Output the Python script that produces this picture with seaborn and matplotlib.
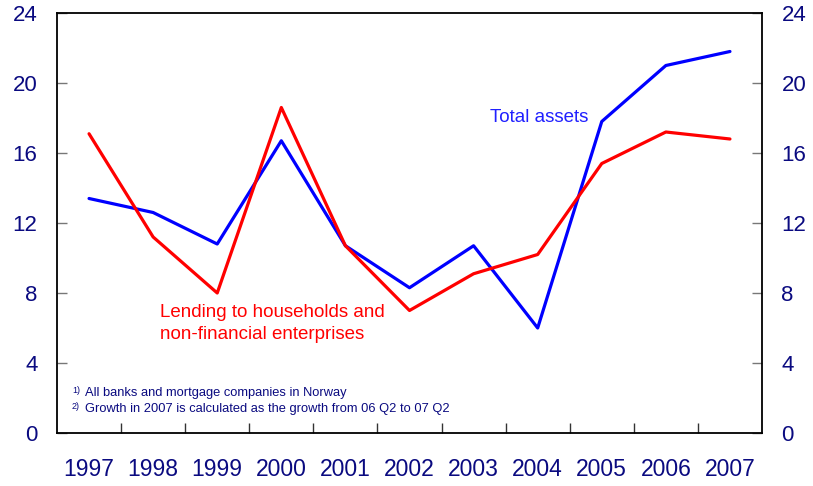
import numpy as np
import pandas as pd
import matplotlib
matplotlib.use('Agg')
import matplotlib.pyplot as plt
import seaborn as sns

years = ['1997', '1998', '1999', '2000', '2001', '2002', '2003', '2004', '2005', '2006', '2007']
total_assets = [13.4, 12.6, 10.8, 16.7, 10.7, 8.3, 10.7, 6.0, 17.8, 21.0, 21.8]
lending = [17.1, 11.2, 8.0, 18.6, 10.7, 7.0, 9.1, 10.2, 15.4, 17.2, 16.8]
y_ticks = [0, 4, 8, 12, 16, 20, 24]
footnote_marks = ['1)', '2)']
footnotes = ['All banks and mortgage companies in Norway',
             'Growth in 2007 is calculated as the growth from 06 Q2 to 07 Q2']

sns.set_style('white')
plt.rcParams['font.family'] = ['Liberation Sans', 'DejaVu Sans']
navy = '#0a0a80'

df = pd.DataFrame({'x': np.arange(len(years)), 'Total assets': total_assets, 'Lending': lending})

fig = plt.figure(figsize=(8.13, 4.86), dpi=100)
ax = fig.add_axes([57 / 813, 1 - 433 / 486, (762 - 57) / 813, (433 - 13) / 486])

sns.lineplot(data=df, x='x', y='Total assets', color='#0000ff', linewidth=2.3, ax=ax)
sns.lineplot(data=df, x='x', y='Lending', color='#ff0000', linewidth=2.3, ax=ax)

ax.set_xlim(-0.5, len(years) - 0.5)
ax.set_ylim(0, 24)
ax.set_xlabel('')
ax.set_ylabel('')

ax.set_xticks(np.arange(len(years)))
ax.set_xticklabels(years)
ax.set_xticks(np.arange(len(years) - 1) + 0.5, minor=True)
ax.tick_params(axis='x', which='major', length=0, pad=18, labelsize=16.5, labelcolor=navy)
ax.tick_params(axis='x', which='minor', direction='in', length=7, width=1, color='#333333', bottom=True)

ax.set_yticks(y_ticks)
ax.tick_params(axis='y', which='major', direction='in', length=7, width=1, color='#777777',
               left=True, right=True, labelleft=True, labelright=True,
               pad=14, labelsize=16, labelcolor=navy)

for s in ax.spines.values():
    s.set_color('black')
    s.set_linewidth(1.3)

ax.text(6.25, 18.05, 'Total assets', color='#2020ff', fontsize=13.5, va='center')
ax.text(1.1, 6.9, 'Lending to households and', color='#ff0000', fontsize=13.5, va='center')
ax.text(1.1, 5.65, 'non-financial enterprises', color='#ff0000', fontsize=13.5, va='center')

# footnotes, small raised marks in front
for i, (mark, note) in enumerate(zip(footnote_marks, footnotes)):
    yv = 2.3 - 0.93 * i
    ax.text(-0.265, yv + 0.12, mark, color=navy, fontsize=6.5, va='center')
    ax.text(-0.06, yv, note, color=navy, fontsize=9.3, va='center')

fig.savefig('out.png', dpi=100)
